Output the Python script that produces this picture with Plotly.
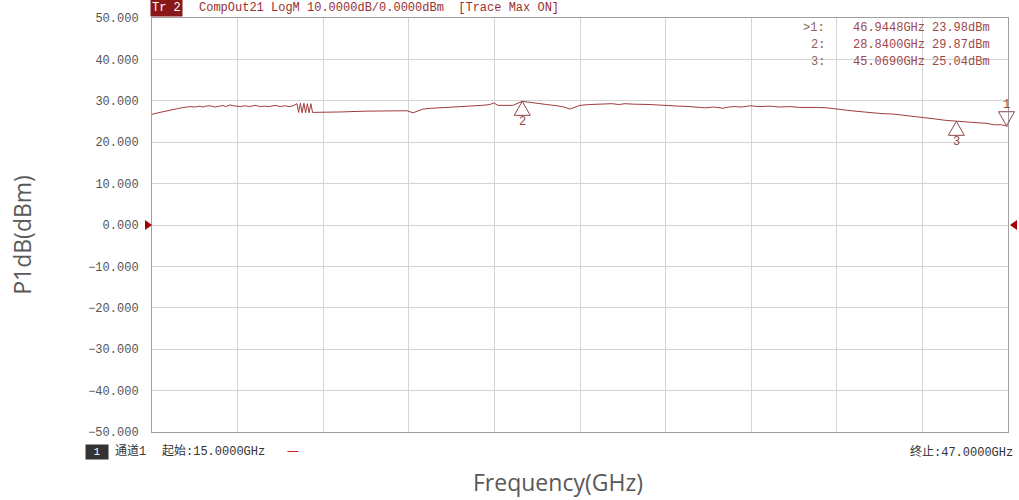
import plotly.graph_objects as go

# ---------------- data ----------------
freq_ghz = [15.00, 15.04, 15.30, 15.55, 15.79, 15.95, 16.10, 16.25, 16.42, 16.60, 16.79, 16.90,
            17.00, 17.17, 17.35, 17.54, 17.65, 17.75, 17.92, 18.05, 18.18, 18.30, 18.48, 18.65,
            18.85, 19.05, 19.22, 19.40, 19.60, 19.80, 19.97, 20.12, 20.27,
            20.42, 20.48, 20.55, 20.61, 20.68, 20.74, 20.81, 20.87, 20.94, 21.00, 21.09,
            22.03, 23.00, 23.52, 24.10, 24.53, 24.76, 25.13, 25.45, 25.77, 26.10, 26.40, 26.75,
            27.07, 27.35, 27.63, 27.78, 27.93, 28.49, 28.84, 29.10, 29.39, 29.75, 30.14, 30.40,
            30.62, 31.00, 31.35, 31.75, 32.00, 32.20, 32.45, 32.68, 32.95, 33.20, 33.62, 33.90,
            34.25, 34.70, 35.11, 35.40, 35.67, 36.00, 36.35, 36.55, 36.79, 37.05, 37.35, 37.70,
            38.10, 38.45, 38.85, 39.20, 39.60, 39.90, 40.23, 40.64, 41.00, 41.28, 41.60, 41.95,
            42.30, 42.70, 43.00, 43.33, 43.65, 43.97, 44.30, 44.64, 45.069, 45.30, 45.58, 45.85,
            46.14, 46.51, 46.75, 46.9448, 47.00]
p1db_dbm = [26.7, 26.8, 27.2, 27.6, 28.0, 28.1, 28.3, 28.4, 28.6, 28.5, 28.7, 28.5,
            28.7, 28.8, 28.5, 28.7, 28.9, 28.6, 29.0, 28.8, 28.7, 28.6, 28.8, 28.6,
            28.9, 28.6, 28.7, 28.6, 28.9, 28.6, 28.8, 28.6, 28.8,
            29.3, 27.2, 29.4, 27.1, 29.4, 27.1, 29.3, 27.1, 29.3, 27.2, 27.2,
            27.3, 27.5, 27.5, 27.6, 27.6, 27.1, 28.0, 28.2, 28.3, 28.4, 28.5, 28.6,
            28.8, 28.9, 29.1, 29.5, 28.9, 28.9, 29.87, 29.6, 29.4, 29.1, 28.8, 28.5,
            28.0, 28.9, 29.1, 29.2, 29.1, 29.3, 29.1, 29.3, 29.2, 29.1, 29.1, 29.0,
            28.8, 28.7, 28.6, 28.5, 28.3, 28.5, 28.2, 28.5, 28.6, 28.5, 28.8, 28.6,
            28.7, 28.5, 28.6, 28.4, 28.5, 28.4, 28.3, 27.9, 27.7, 27.5, 27.3, 27.0,
            26.9, 26.8, 26.6, 26.4, 26.2, 25.9, 25.6, 25.3, 25.04, 25.0, 24.8, 24.7,
            24.6, 24.2, 24.2, 23.98, 23.85]

marker_ids = [1, 2, 3]
marker_freq = [46.9448, 28.84, 45.069]
marker_val = [23.98, 29.87, 25.04]
marker_active = [True, False, False]

x_range = [15, 47]
y_range = [-50, 50]
y_ticks = [50, 40, 30, 20, 10, 0, -10, -20, -30, -40, -50]
start_label = "起始:15.0000GHz"
stop_label = "终止:47.0000GHz"
channel_label = "通道1"
header_label = "CompOut21 LogM 10.0000dB/0.0000dBm  [Trace Max ON]"

# ---------------- style ----------------
TRACE = "#a03c3c"
MK = "#8b4a4a"
MONO = "Liberation Mono, Noto Sans CJK SC, monospace"
SANS = "Open Sans, Noto Sans, sans-serif"

fig = go.Figure()
fig.add_trace(go.Scatter(x=freq_ghz, y=p1db_dbm, mode="lines",
                         line=dict(color=TRACE, width=1), showlegend=False,
                         hoverinfo="x+y"))

fig.update_layout(
    width=1019, height=500,
    margin=dict(l=152, r=11, t=18, b=68),
    paper_bgcolor="white", plot_bgcolor="white",
    xaxis=dict(range=x_range, tick0=x_range[0], dtick=3.2, showticklabels=False,
               showgrid=True, gridcolor="#d4d4d4", gridwidth=1, zeroline=False,
               showline=True, linecolor="#a0a0a0", linewidth=1, mirror=True,
               ticks=""),
    yaxis=dict(range=y_range, tickvals=y_ticks, tickformat=".3f",
               showgrid=True, gridcolor="#d4d4d4", gridwidth=1, zeroline=False,
               showline=True, linecolor="#a0a0a0", linewidth=1, mirror=True,
               ticks="", ticklabelstandoff=10,
               tickfont=dict(family=MONO, size=12, color="#555555")),
)

shapes = []
ann = []

# marker triangles and labels (x anchored as fraction of the x axis range so they are not clipped)
for mid, mf, mv, act in zip(marker_ids, marker_freq, marker_val, marker_active):
    if act:
        path = "M0,0 L-8,14 L8,14 Z"
        ys = 21
    else:
        path = "M0,0 L-8,-14 L8,-14 Z"
        ys = -21
    xfrac = (mf - x_range[0]) / (x_range[1] - x_range[0])
    shapes.append(dict(type="path", xref="paper", yref="y", xsizemode="pixel", ysizemode="pixel",
                       xanchor=xfrac, yanchor=mv, path=path,
                       line=dict(color=MK, width=1), fillcolor="rgba(0,0,0,0)", layer="above"))
    ann.append(dict(x=mf, y=mv, xref="x", yref="y", text=str(mid), showarrow=False,
                    yshift=ys, font=dict(family=MONO, size=12, color=MK)))

# reference level triangles
shapes.append(dict(type="path", xref="paper", yref="y", xsizemode="pixel", ysizemode="pixel",
                   xanchor=0, yanchor=0, path="M0,0 L-7,-5 L-7,5 Z",
                   line=dict(color="#a00000", width=0), fillcolor="#a00000"))
shapes.append(dict(type="path", xref="paper", yref="y", xsizemode="pixel", ysizemode="pixel",
                   xanchor=1, yanchor=0, path="M2,0 L9,-5 L9,5 Z",
                   line=dict(color="#a00000", width=0), fillcolor="#a00000"))

# header
ann.append(dict(x=-0.002, y=1.0, xref="paper", yref="paper", xanchor="left", yanchor="bottom",
                text="Tr 2", showarrow=False, bgcolor="#8b1818", borderpad=1, yshift=1,
                font=dict(family=MONO, size=12, color="white")))
ann.append(dict(x=0.0526, y=1.0, xref="paper", yref="paper", xanchor="left", yanchor="bottom",
                text=header_label, showarrow=False, yshift=1,
                font=dict(family=MONO, size=12, color="#9b3030")))

# marker table
row_y = [0.976, 0.935, 0.894]
for i, (mid, mf, mv, act) in enumerate(zip(marker_ids, marker_freq, marker_val, marker_active)):
    lab = (">" if act else "") + f"{mid}:"
    ann.append(dict(x=0.788, y=row_y[i], xref="paper", yref="paper", xanchor="right",
                    yanchor="middle", text=lab, showarrow=False,
                    font=dict(family=MONO, size=12, color="#8a6060")))
    ann.append(dict(x=0.817, y=row_y[i], xref="paper", yref="paper", xanchor="left",
                    yanchor="middle", text=f"{mf:.4f}GHz", showarrow=False,
                    font=dict(family=MONO, size=12, color="#a04848")))
    ann.append(dict(x=0.909, y=row_y[i], xref="paper", yref="paper", xanchor="left",
                    yanchor="middle", text=f"{mv:.2f}dBm", showarrow=False,
                    font=dict(family=MONO, size=12, color="#a04848")))

# footer
ann.append(dict(x=-0.064, y=-0.048, xref="paper", yref="paper", xanchor="center", yanchor="middle",
                text=" 1 ", showarrow=False, bgcolor="#333333", borderpad=1,
                font=dict(family=MONO, size=11, color="white")))
ann.append(dict(x=-0.0456, y=-0.048, xref="paper", yref="paper", xanchor="left", yanchor="middle",
                text=channel_label, showarrow=False,
                font=dict(family=MONO, size=12, color="#333333")))
ann.append(dict(x=0.0093, y=-0.048, xref="paper", yref="paper", xanchor="left", yanchor="middle",
                text=start_label, showarrow=False,
                font=dict(family=MONO, size=12, color="#333333")))
ann.append(dict(x=0.155, y=-0.048, xref="paper", yref="paper", xanchor="left", yanchor="middle",
                text="一", showarrow=False,
                font=dict(family="Noto Sans CJK SC", size=12, color="#d02020")))
ann.append(dict(x=1.008, y=-0.048, xref="paper", yref="paper", xanchor="right", yanchor="middle",
                text=stop_label, showarrow=False,
                font=dict(family=MONO, size=12, color="#333333")))

# axis titles
ann.append(dict(x=0.474, y=-0.121, xref="paper", yref="paper", xanchor="center", yanchor="middle",
                text="Frequency(GHz)", showarrow=False,
                font=dict(family=SANS, size=23, color="#595959")))
ann.append(dict(x=-0.152, y=0.476, xref="paper", yref="paper", xanchor="center", yanchor="middle",
                text="P1dB(dBm)", showarrow=False, textangle=-90,
                font=dict(family=SANS, size=23, color="#595959")))

fig.update_layout(shapes=shapes, annotations=ann)
fig.write_html("out.html", config={"displayModeBar": False},
               post_script="document.body.style.margin='0';document.body.style.padding='0';")
